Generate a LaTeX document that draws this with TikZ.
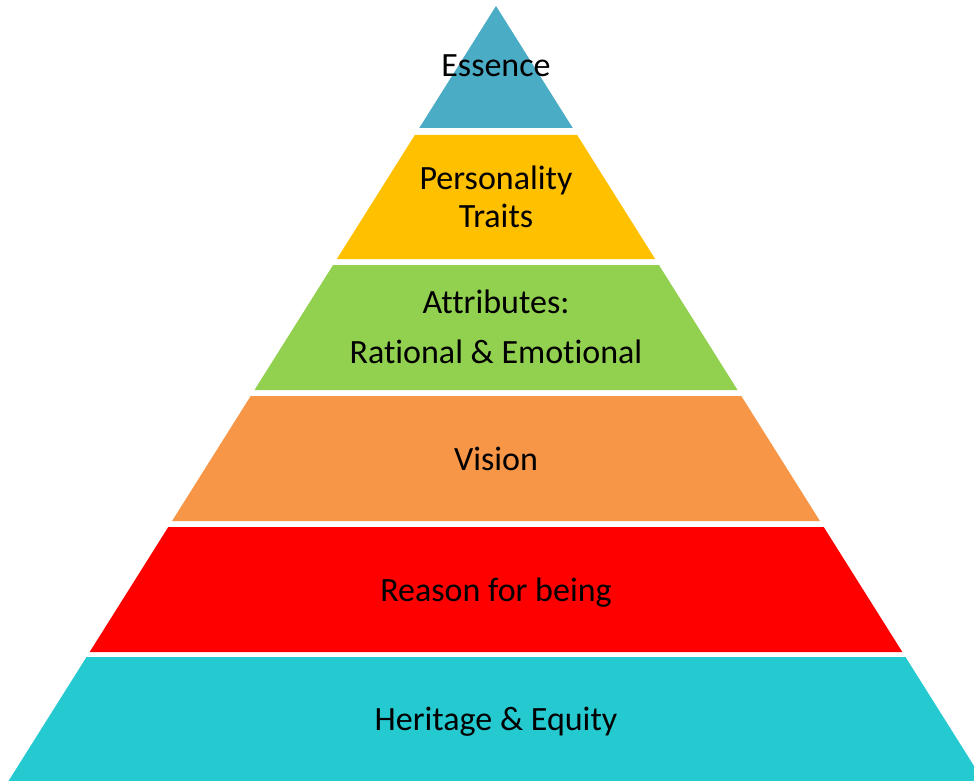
\documentclass[tikz,border=0pt]{standalone}
\usepackage{fontspec}
\setmainfont{Carlito}[Ligatures=NoCommon]
\definecolor{cEss}{HTML}{4BACC6}
\definecolor{cPers}{HTML}{FFC000}
\definecolor{cAttr}{HTML}{92D050}
\definecolor{cVis}{HTML}{F79646}
\definecolor{cReas}{HTML}{FF0000}
\definecolor{cHer}{HTML}{25CAD1}
\tikzset{
  lbl/.style={anchor=base, inner sep=0pt, font=\fontsize{34}{40}\selectfont, text=black},
}
\begin{document}
\begin{tikzpicture}[x=1pt,y=-1pt]
\useasboundingbox (0,0) rectangle (974,781);
\clip (0,0) rectangle (974,781);
\fill[white] (0,0) rectangle (974,781);
\def\k{0.629}
\fill[cEss] (496,6) -- ({496+\k*122},128) -- ({496-\k*122},128) -- cycle;
\foreach \t/\b/\c in {135/259/cPers, 265/390/cAttr, 396/521/cVis, 527/652/cReas, 657/781/cHer}{
  \fill[\c] ({496-\k*(\t-6)},\t) -- ({496+\k*(\t-6)},\t) -- ({496+\k*(\b-6)},\b) -- ({496-\k*(\b-6)},\b) -- cycle;
}
\node[lbl] (essence) at (496,77) {Essence};
\node[lbl] (pers1) at (496,189) {Personality};
\node[lbl] (pers2) at (496,227) {Traits};
\node[lbl] (attr1) at (496,313) {Attributes:};
\node[lbl] (attr2) at (496,363) {Rational \& Emotional};
\node[lbl] (vision) at (496,470) {Vision};
\node[lbl] (reason) at (496,601) {Reason for being};
\node[lbl] (heritage) at (496,730) {Heritage \& Equity};
\end{tikzpicture}
\end{document}
